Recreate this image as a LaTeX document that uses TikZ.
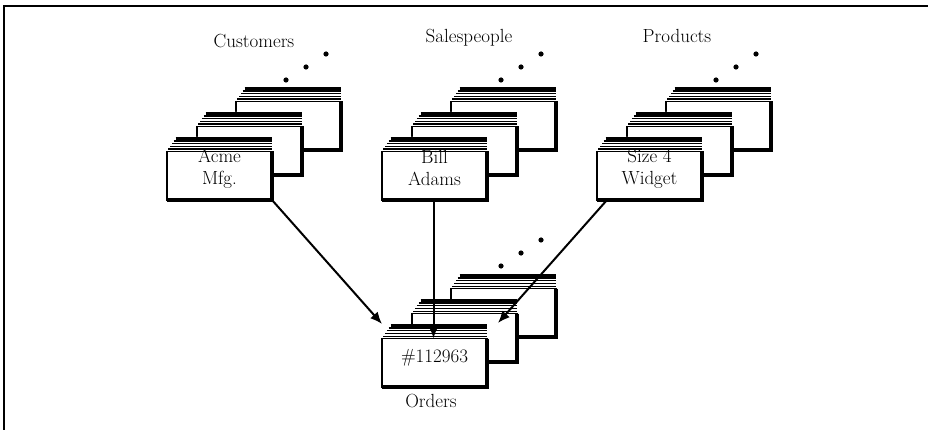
\documentclass[tikz,border=0pt]{standalone}
\usepackage{fontspec}
\usetikzlibrary{arrows.meta}

\tikzset{
  txt/.style={font=\fontsize{19}{22}\selectfont, inner sep=0pt, anchor=base},
  cardtxt/.style={txt, align=center},
  link/.style={line width=2pt, -{Latex[length=12pt,width=10pt]}},
  dot/.style={fill=black},
  % one index card seen from the front, with the page edges of the stack on top
  pics/card/.style={code={
    \fill[white] (0,63) -- (0,14.5) -- (8.5,0) -- (105,0) -- (105,63) -- cycle;
    \draw[line width=2.6pt] (8.5,1.3) -- (105,1.3);
    \foreach \k in {1,2,3,4}
      \draw[line width=1.2pt] ({8.5-1.8*\k},{1.3+2.7*\k}) -- (105,{1.3+2.7*\k});
    \draw[line width=1.8pt] (0,14.5) rectangle (105,63);
    \draw[line width=3.4pt] (105,14.5) -- (105,63) -- (0,63);
    \coordinate (-tl) at (0,0);
    \coordinate (-tc) at (51.5,14.5);
    \coordinate (-bc) at (51.5,63);
    \coordinate (-br) at (105,63);
    \coordinate (-bl) at (10,63);
  }},
}

\begin{document}
\begin{tikzpicture}[x=1pt, y=-1pt]
\useasboundingbox (0,0) rectangle (928,430);

% frame
\draw[line width=2.5pt] (4,430) -- (4,6) -- (928,6);

% Customers
\pic (custB) at (236,87) {card};
\pic (custM) at (197,112) {card};
\pic (custF) at (167,137) {card};
\foreach \p in {(286,80),(306,67),(326,54)} \fill[dot] \p circle (2.6);
\node[txt] (custLbl) at (254,48) {Customers};
\node[cardtxt] (custTxt) at (219.5,185) {Acme\\Mfg.};

% Salespeople
\pic (salesB) at (451,87) {card};
\pic (salesM) at (412,112) {card};
\pic (salesF) at (382,137) {card};
\foreach \p in {(501,80),(521,67),(541,54)} \fill[dot] \p circle (2.6);
\node[txt] (salesLbl) at (469,43) {Salespeople};
\node[cardtxt] (salesTxt) at (434.5,186) {Bill\\Adams};

% Products
\pic (prodB) at (666,87) {card};
\pic (prodM) at (627,112) {card};
\pic (prodF) at (597,137) {card};
\foreach \p in {(716,80),(736,67),(756,54)} \fill[dot] \p circle (2.6);
\node[txt] (prodLbl) at (677,43) {Products};
\node[cardtxt] (prodTxt) at (649.5,185) {Size 4\\Widget};

% Orders
\pic (ordB) at (451,274) {card};
\pic (ordM) at (412,299) {card};
\pic (ordF) at (382,324) {card};
\foreach \p in {(501,266),(521,253),(541,240)} \fill[dot] \p circle (2.6);
\node[txt] (ordTxt) at (434.5,362) {\#112963};
\node[txt] (ordLbl) at (431,407) {Orders};

% links into the order
\coordinate (prodTip) at (498,323);
\draw[link] (custF-br) -- (ordF-tl);
\draw[link] (salesF-bc) -- (ordF-tc);
\draw[link] (prodF-bl) -- (prodTip);
\end{tikzpicture}
\end{document}
